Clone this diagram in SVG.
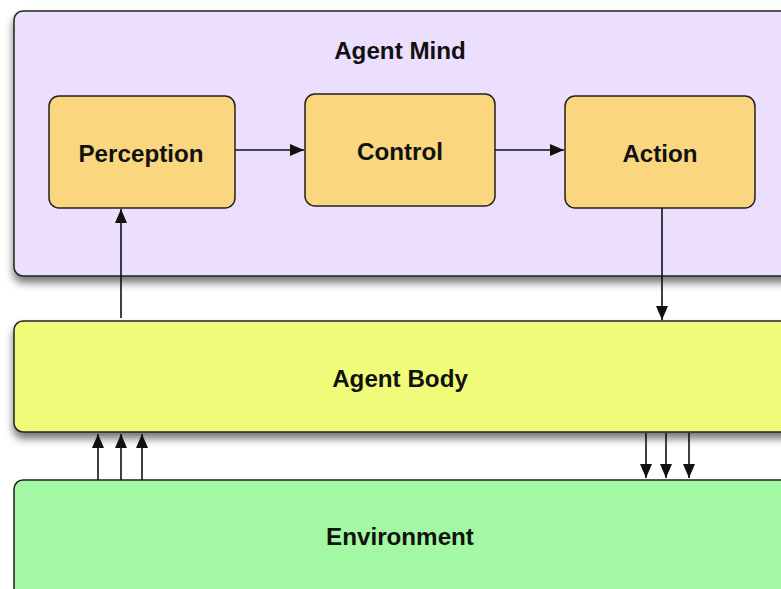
<svg xmlns="http://www.w3.org/2000/svg" width="781" height="589" viewBox="0 0 781 589">
  <style>
    .frame { stroke: #222; stroke-width: 1.5; }
    .node { fill: #fad67f; stroke: #222; stroke-width: 1.5; }
    .label { font-family: "Liberation Sans", Arial, sans-serif; font-weight: bold; font-size: 24.2px; fill: #111; text-anchor: middle; }
    .link { stroke: #111; stroke-width: 1.6; fill: none; marker-end: url(#head); }
  </style>
  <defs>
    <marker id="head" viewBox="0 0 10 10" refX="10" refY="5" markerWidth="14" markerHeight="12" markerUnits="userSpaceOnUse" orient="auto" preserveAspectRatio="none">
      <path d="M0,0 L10,5 L0,10 Z" fill="#111"/>
    </marker>
    <filter id="shadow" x="-10%" y="-10%" width="130%" height="140%">
      <feGaussianBlur in="SourceAlpha" stdDeviation="4"/>
      <feOffset dx="0" dy="6" result="b"/>
      <feComponentTransfer><feFuncA type="linear" slope="0.55"/></feComponentTransfer>
      <feMerge><feMergeNode/><feMergeNode in="SourceGraphic"/></feMerge>
    </filter>
  </defs>
  <rect width="781" height="589" fill="#ffffff"/>

  <g id="agent-mind">
    <rect class="frame" x="14" y="11" width="790" height="265" rx="9" fill="#ecdffd" filter="url(#shadow)"/>
    <text class="label" x="400" y="59">Agent Mind</text>
  </g>

  <g id="perception">
    <rect class="node" x="49" y="96" width="186" height="112" rx="10"/>
    <text class="label" x="141" y="162">Perception</text>
  </g>

  <g id="control">
    <rect class="node" x="305" y="94" width="190" height="112" rx="10"/>
    <text class="label" x="400" y="160">Control</text>
  </g>

  <g id="action">
    <rect class="node" x="565" y="96" width="190" height="112" rx="10"/>
    <text class="label" x="660" y="162">Action</text>
  </g>

  <g id="agent-body">
    <rect class="frame" x="14" y="321" width="790" height="111" rx="9" fill="#f1fb7a" filter="url(#shadow)"/>
    <text class="label" x="400" y="387">Agent Body</text>
  </g>

  <g id="environment">
    <rect class="frame" x="14" y="480" width="790" height="130" rx="9" fill="#a3f9a3"/>
    <text class="label" x="400" y="545">Environment</text>
  </g>

  <g id="connectors">
    <line class="link" x1="235" y1="150" x2="304" y2="150"/>
    <line class="link" x1="495" y1="150" x2="564" y2="150"/>
    <line class="link" x1="121" y1="318" x2="121" y2="209"/>
    <line class="link" x1="662" y1="208" x2="662" y2="320"/>
    <line class="link" x1="98" y1="480" x2="98" y2="434"/>
    <line class="link" x1="121" y1="480" x2="121" y2="434"/>
    <line class="link" x1="142" y1="480" x2="142" y2="434"/>
    <line class="link" x1="646" y1="433" x2="646" y2="478"/>
    <line class="link" x1="666" y1="433" x2="666" y2="478"/>
    <line class="link" x1="689" y1="433" x2="689" y2="478"/>
  </g>
</svg>
